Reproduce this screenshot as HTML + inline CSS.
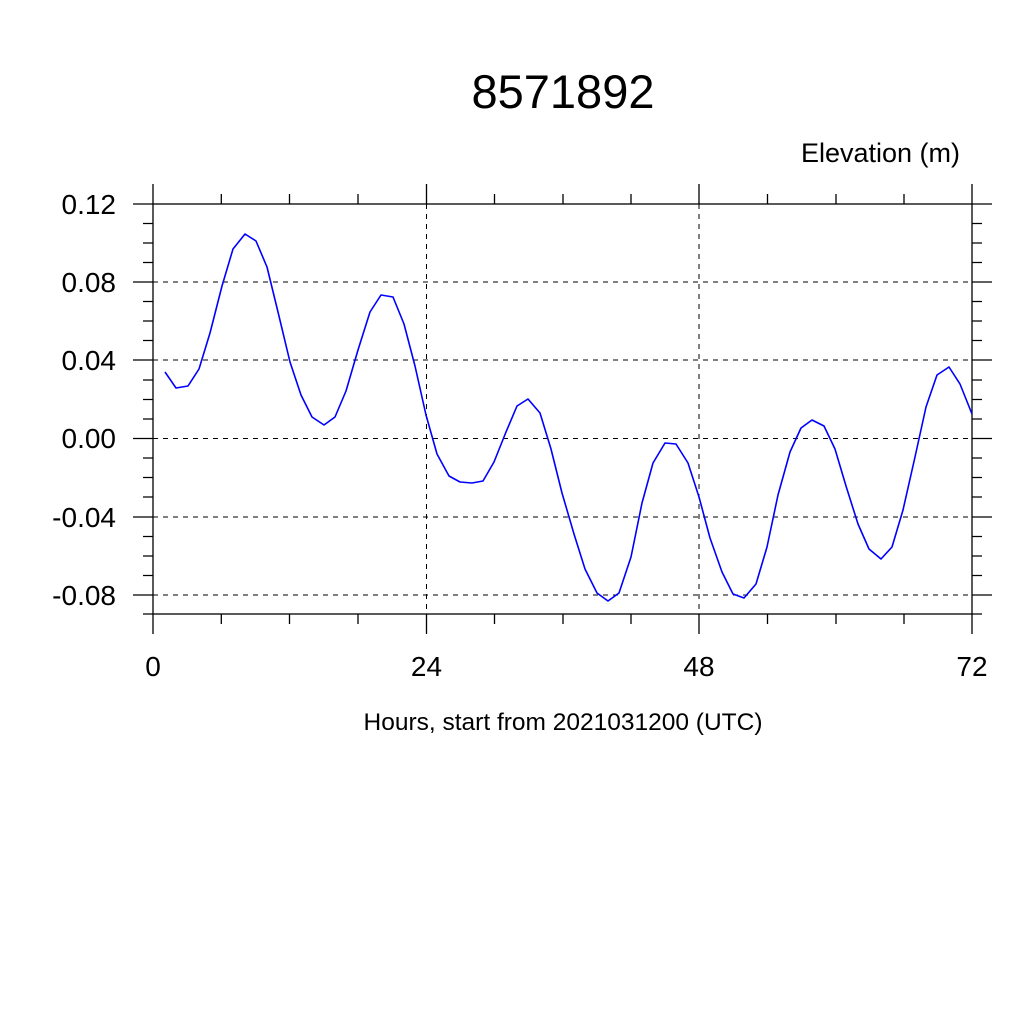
<!DOCTYPE html>
<html><head><style>body{margin:0;background:#fff}svg{display:block}</style></head><body>
<svg width="1024" height="1024" xmlns="http://www.w3.org/2000/svg" font-family="Liberation Sans, sans-serif">
<rect width="1024" height="1024" fill="#fff"/>
<text x="563" y="108" font-size="47" text-anchor="middle">8571892</text>
<text x="960" y="162" font-size="27" text-anchor="end">Elevation (m)</text>
<g stroke="#000" stroke-width="1" stroke-dasharray="5,5">
<line x1="153" y1="282" x2="972" y2="282"/><line x1="153" y1="360" x2="972" y2="360"/><line x1="153" y1="438.5" x2="972" y2="438.5"/><line x1="153" y1="517" x2="972" y2="517"/><line x1="153" y1="595" x2="972" y2="595"/>
<line x1="426.5" y1="204" x2="426.5" y2="614"/><line x1="699" y1="204" x2="699" y2="614"/>
</g>
<g stroke="#000" stroke-width="1.3" fill="none">
<rect x="153" y="204" width="819" height="410"/>
<path d="M153,184V204M153,614V634M426.5,184V204M426.5,614V634M699,184V204M699,614V634M972,184V204M972,614V634"/>
<path d="M221.3,194V204M289.5,194V204M358,194V204M494.5,194V204M563,194V204M631,194V204M767.5,194V204M836,194V204M904,194V204M221.3,614V624M289.5,614V624M358,614V624M494.5,614V624M563,614V624M631,614V624M767.5,614V624M836,614V624M904,614V624"/>
<path d="M133,204H153M133,282H153M133,360H153M133,438.5H153M133,517H153M133,595H153M972,204H992M972,282H992M972,360H992M972,438.5H992M972,517H992M972,595H992"/>
<path d="M143,223.5H153M143,243H153M143,262.5H153M143,301.5H153M143,321H153M143,340.5H153M143,380H153M143,399.5H153M143,419H153M143,458H153M143,477.5H153M143,497H153M143,536.5H153M143,556H153M143,575.5H153M143,614H153M972,223.5H982M972,243H982M972,262.5H982M972,301.5H982M972,321H982M972,340.5H982M972,380H982M972,399.5H982M972,419H982M972,458H982M972,477.5H982M972,497H982M972,536.5H982M972,556H982M972,575.5H982M972,614H982"/>
</g>
<g font-size="28" text-anchor="end">
<text x="116" y="214">0.12</text><text x="116" y="292">0.08</text><text x="116" y="370">0.04</text><text x="116" y="448">0.00</text><text x="116" y="527">-0.04</text><text x="116" y="605">-0.08</text>
</g>
<g font-size="28" text-anchor="middle">
<text x="153" y="676">0</text><text x="426.5" y="676">24</text><text x="699" y="676">48</text><text x="972" y="676">72</text>
</g>
<text x="563" y="730" font-size="24.5" text-anchor="middle">Hours, start from 2021031200 (UTC)</text>
<polyline fill="none" stroke="#0000ff" stroke-width="1.6" stroke-linejoin="round" points="165,372 176,388 188,386 199,369 210,333 222,286 233,249 245,234 256,241 267,267 278,312 290,362 301,395 312,417 324,425 335,417 346,391 358,350 370,312 381,295 393,297 404,324 415,366 426,415 437,454 449,476 460,482 472,483 483,481 494,462 506,432 517,406 528,399 540,413 551,449 562,493 574,534 585,569 597,593 608,601 619,593 631,557 642,503 653,463 665,443 676,444 688,463 699,497 710,538 722,572 733,594 744,598 756,584 767,547 778,495 790,452 801,428 812,420 824,426 835,449 846,486 858,524 869,549 881,559 892,547 903,510 915,457 926,407 937,375 949,367 960,384 972,414"/>
</svg>
</body></html>
